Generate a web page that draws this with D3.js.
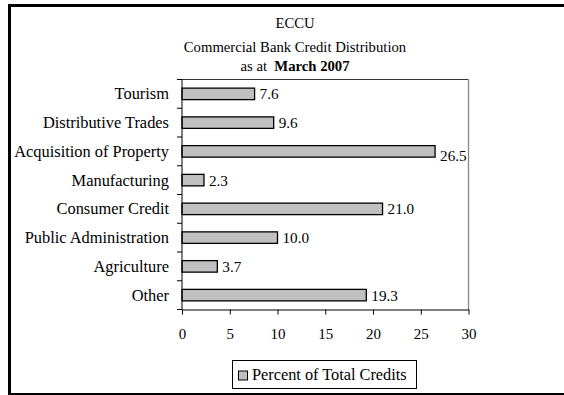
<!DOCTYPE html>
<html>
<head>
<meta charset="utf-8">
<script src="https://cdn.jsdelivr.net/npm/d3@7"></script>
<style>
  html, body { margin: 0; padding: 0; background: #fff; }
  svg { display: block; }
  text { font-family: "Liberation Serif", "Times New Roman", serif; fill: #000; }
</style>
</head>
<body>
<script>
// Sector shares of commercial bank credit, ECCU, March 2007
const categories = [
  "Tourism",
  "Distributive Trades",
  "Acquisition of Property",
  "Manufacturing",
  "Consumer Credit",
  "Public Administration",
  "Agriculture",
  "Other"
];
const values = [7.6, 9.6, 26.5, 2.3, 21.0, 10.0, 3.7, 19.3];
const xTicks = [0, 5, 10, 15, 20, 25, 30];
const titleLines = ["ECCU", "Commercial Bank Credit Distribution"];
const seriesName = "Percent of Total Credits";

const W = 564, H = 395;
const plot = { left: 182, right: 468.5, top: 79.5, bottom: 309.5 };

const svg = d3.select("body").append("svg")
  .attr("width", W).attr("height", H);

svg.append("rect").attr("width", W).attr("height", H).attr("fill", "#fff");

// Frame: heavy rule on the left and top, lighter one along the bottom
svg.append("line").attr("x1", 9.5).attr("x2", 9.5).attr("y1", 4).attr("y2", H)
  .attr("stroke", "#000").attr("stroke-width", 3);
svg.append("line").attr("x1", 8).attr("x2", W).attr("y1", 5.5).attr("y2", 5.5)
  .attr("stroke", "#000").attr("stroke-width", 3);
svg.append("line").attr("x1", 8).attr("x2", W).attr("y1", 394).attr("y2", 394)
  .attr("stroke", "#000").attr("stroke-width", 2);

// Titles
const cx = 295;
svg.append("text").attr("x", cx).attr("y", 27.5).attr("text-anchor", "middle")
  .attr("font-size", 14.7).text(titleLines[0]);
svg.append("text").attr("x", cx).attr("y", 51.5).attr("text-anchor", "middle")
  .attr("font-size", 14.7).text(titleLines[1]);
const t3 = svg.append("text").attr("x", cx).attr("y", 71).attr("text-anchor", "middle")
  .attr("font-size", 14.7).attr("xml:space", "preserve");
t3.append("tspan").text("as at  ");
t3.append("tspan").attr("font-weight", "bold").text("March 2007");

// Scales
const x = d3.scaleLinear().domain([0, 30]).range([plot.left, plot.right]);
const y = d3.scaleBand().domain(categories).range([plot.top, plot.bottom])
  .paddingInner(0.6).paddingOuter(0.3);

// Plot-area border (top dark, right grey)
svg.append("line").attr("x1", plot.left).attr("x2", plot.right)
  .attr("y1", plot.top).attr("y2", plot.top)
  .attr("stroke", "#333").attr("stroke-width", 1);

// Bars
svg.append("g").selectAll("rect").data(values).join("rect")
  .attr("x", x(0))
  .attr("y", (d, i) => y(categories[i]))
  .attr("width", d => x(d) - x(0))
  .attr("height", y.bandwidth())
  .attr("fill", "#c0c0c0")
  .attr("stroke", "#000")
  .attr("stroke-width", 1.3);

// Value labels (nudged down when they would run into the plot edge)
svg.append("g").selectAll("text").data(values).join("text")
  .attr("x", d => x(d) + 5)
  .attr("y", (d, i) => y(categories[i]) + y.bandwidth() / 2 + 5.5 + (x(d) + 35 > plot.right ? 4 : 0))
  .attr("font-size", 15.2)
  .text(d => d.toFixed(1));

svg.append("line").attr("x1", plot.right).attr("x2", plot.right)
  .attr("y1", plot.top).attr("y2", plot.bottom)
  .attr("stroke", "#888").attr("stroke-width", 1.3);

// Category axis with tick marks between bands
const yAxis = svg.append("g").attr("transform", `translate(${plot.left},0)`);
yAxis.append("line").attr("x1", 0).attr("x2", 0).attr("y1", plot.top).attr("y2", plot.bottom)
  .attr("stroke", "#000");
d3.range(categories.length + 1).forEach(i => {
  const yy = plot.top + i * (plot.bottom - plot.top) / categories.length;
  yAxis.append("line").attr("x1", -5).attr("x2", 0).attr("y1", yy).attr("y2", yy)
    .attr("stroke", "#000");
});
yAxis.selectAll("text.cat").data(categories).join("text")
  .attr("class", "cat")
  .attr("x", -13)
  .attr("y", d => y(d) + y.bandwidth() / 2 + 5.5)
  .attr("text-anchor", "end")
  .attr("font-size", 16.4)
  .text(d => d);

// Value axis
const xAxis = d3.axisBottom(x).tickValues(xTicks).tickSize(5).tickSizeOuter(0)
  .tickFormat(d3.format("d"));
const gx = svg.append("g").attr("transform", `translate(0,${plot.bottom})`).call(xAxis);
gx.select(".domain").attr("stroke", "#000");
gx.selectAll(".tick line").attr("stroke", "#000");
gx.selectAll(".tick text")
  .attr("font-family", "Liberation Serif, Times New Roman, serif")
  .attr("font-size", 15).attr("fill", "#000").attr("dy", 0).attr("y", 29.5);

// Legend
const lg = svg.append("g");
lg.append("rect").attr("x", 232.5).attr("y", 360.5).attr("width", 184).attr("height", 28)
  .attr("fill", "#fff").attr("stroke", "#000").attr("stroke-width", 1);
lg.append("rect").attr("x", 238.5).attr("y", 371).attr("width", 9).attr("height", 9)
  .attr("fill", "#c0c0c0").attr("stroke", "#000").attr("stroke-width", 1);
lg.append("text").attr("x", 252).attr("y", 380).attr("font-size", 16.3).text(seriesName);
</script>
</body>
</html>
